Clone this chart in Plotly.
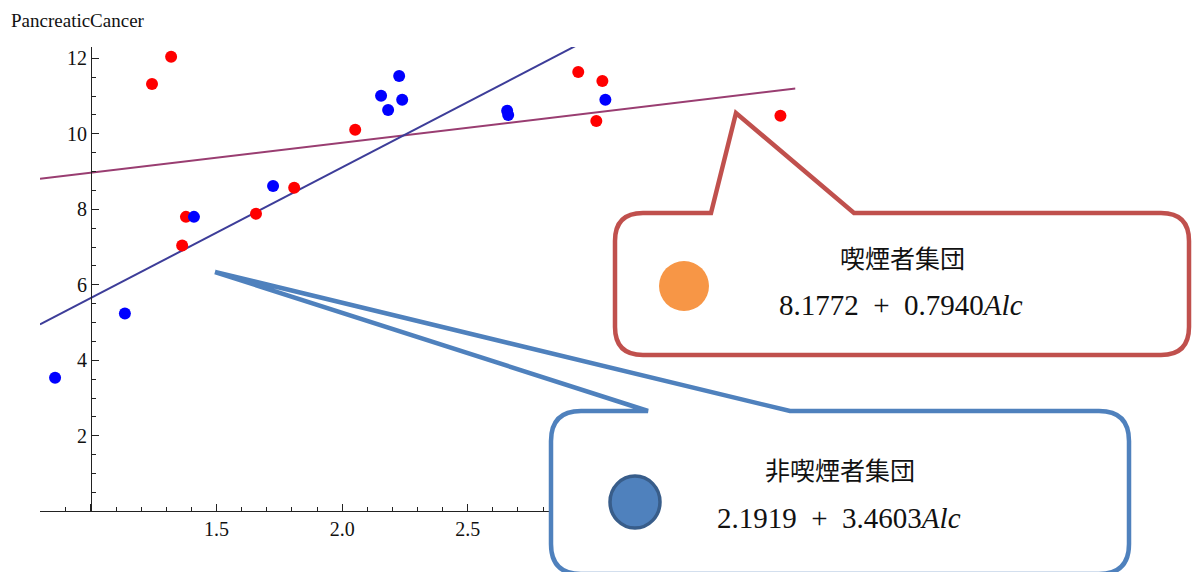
import plotly.graph_objects as go

# ---------------- data ----------------
smoker_x = [1.243, 1.319, 1.378, 1.363, 1.657, 1.809, 2.052, 2.940, 3.036, 3.012, 3.745]
smoker_y = [11.32, 12.04, 7.80, 7.04, 7.88, 8.57, 10.11, 11.64, 11.40, 10.34, 10.48]
nonsmoker_x = [0.857, 1.135, 1.410, 1.725, 2.155, 2.183, 2.227, 2.239, 2.657, 2.661, 3.048]
nonsmoker_y = [3.54, 5.24, 7.80, 8.62, 11.01, 10.63, 11.53, 10.90, 10.61, 10.50, 10.90]

smoker_coef = [8.1772, 0.7940]      # intercept, slope
nonsmoker_coef = [2.1919, 3.4603]

x_tickvals = [1.0, 1.5, 2.0, 2.5, 3.0, 3.5]
x_ticktext = ["", "1.5", "2.0", "2.5", "", ""]   # 3.0 / 3.5 hidden behind the callout in the reference
y_tickvals = [2, 4, 6, 8, 10, 12]
y_ticktext = ["2", "4", "6", "8", "10", "12"]

y_label = "PancreaticCancer"
smoker_title = "喫煙者集団"
smoker_formula = "8.1772\u2002+\u20020.7940<i>Alc</i>"
nonsmoker_title = "非喫煙者集団"
nonsmoker_formula = "2.1919\u2002+\u20023.4603<i>Alc</i>"

# ---------------- layout constants ----------------
W, H = 1199, 572
XMIN, XMAX = 0.797, 3.805
YMIN, YMAX = 0.0, 12.30
dom_x = [40 / W, 795.5 / W]
dom_y = [1 - 511.3 / H, 1 - 47 / H]
yaxis_pos = dom_x[0] + (1.0 - XMIN) / (XMAX - XMIN) * (dom_x[1] - dom_x[0])


def X(px):
    return px / W


def Y(py):
    return 1 - py / H


serif = "Liberation Serif, Times New Roman, serif"
cjk = "Noto Sans CJK JP, Noto Sans CJK SC, sans-serif"

fig = go.Figure()

# regression lines
lx = [XMIN, XMAX]
fig.add_trace(go.Scatter(x=lx, y=[smoker_coef[0] + smoker_coef[1] * v for v in lx],
                         mode="lines", line=dict(color="#993D71", width=2), showlegend=False))
fig.add_trace(go.Scatter(x=lx, y=[nonsmoker_coef[0] + nonsmoker_coef[1] * v for v in lx],
                         mode="lines", line=dict(color="#3D3D99", width=2), showlegend=False))

# points
fig.add_trace(go.Scatter(x=smoker_x, y=smoker_y, mode="markers",
                         marker=dict(color="#FF0000", size=12, line=dict(width=0)),
                         showlegend=False, cliponaxis=False))
fig.add_trace(go.Scatter(x=nonsmoker_x, y=nonsmoker_y, mode="markers",
                         marker=dict(color="#0000FF", size=12, line=dict(width=0)),
                         showlegend=False, cliponaxis=False))


def callout_path(left, top, right, bottom, r, base_l, tip, base_r):
    p = []
    p.append(f"M {X(base_l)} {Y(top)}")
    p.append(f"L {X(tip[0])} {Y(tip[1])}")
    p.append(f"L {X(base_r)} {Y(top)}")
    p.append(f"L {X(right - r)} {Y(top)}")
    p.append(f"Q {X(right)} {Y(top)} {X(right)} {Y(top + r)}")
    p.append(f"L {X(right)} {Y(bottom - r)}")
    p.append(f"Q {X(right)} {Y(bottom)} {X(right - r)} {Y(bottom)}")
    p.append(f"L {X(left + r)} {Y(bottom)}")
    p.append(f"Q {X(left)} {Y(bottom)} {X(left)} {Y(bottom - r)}")
    p.append(f"L {X(left)} {Y(top + r)}")
    p.append(f"Q {X(left)} {Y(top)} {X(left + r)} {Y(top)}")
    p.append("Z")
    return " ".join(p)


shapes = []
# blue (non-smoker) callout
shapes.append(dict(type="path", xref="paper", yref="paper", layer="above",
                   path=callout_path(551, 411, 1129, 574, 30, 648, (215, 272), 790),
                   fillcolor="white", line=dict(color="#4F81BD", width=4.5)))
shapes.append(dict(type="circle", xref="paper", yref="paper", layer="above",
                   x0=X(635 - 25), x1=X(635 + 25), y0=Y(502 + 26), y1=Y(502 - 26),
                   fillcolor="#4F81BD", line=dict(color="#385D8A", width=3.5)))
# red (smoker) callout
shapes.append(dict(type="path", xref="paper", yref="paper", layer="above",
                   path=callout_path(615, 213, 1189, 355, 28, 711, (736, 113), 854),
                   fillcolor="white", line=dict(color="#C0504D", width=4.5)))
shapes.append(dict(type="circle", xref="paper", yref="paper", layer="above",
                   x0=X(684 - 25), x1=X(684 + 25), y0=Y(286 + 25), y1=Y(286 - 25),
                   fillcolor="#F79646", line=dict(color="#F79646", width=0)))

annotations = [
    dict(text=y_label, xref="paper", yref="paper", x=X(9), y=Y(20), xanchor="left",
         yanchor="middle", showarrow=False, font=dict(family=serif, size=19, color="#111")),
    dict(text=smoker_title, xref="paper", yref="paper", x=X(902), y=Y(257), xanchor="center",
         yanchor="middle", showarrow=False, font=dict(family=cjk, size=25, color="#111")),
    dict(text=smoker_formula, xref="paper", yref="paper", x=X(901), y=Y(305), xanchor="center",
         yanchor="middle", showarrow=False, font=dict(family=serif, size=29, color="#111")),
    dict(text=nonsmoker_title, xref="paper", yref="paper", x=X(840), y=Y(469), xanchor="center",
         yanchor="middle", showarrow=False, font=dict(family=cjk, size=25, color="#111")),
    dict(text=nonsmoker_formula, xref="paper", yref="paper", x=X(839), y=Y(518), xanchor="center",
         yanchor="middle", showarrow=False, font=dict(family=serif, size=29, color="#111")),
]

fig.update_layout(
    width=W, height=H, autosize=False,
    margin=dict(l=0, r=0, t=0, b=0),
    paper_bgcolor="white", plot_bgcolor="white",
    showlegend=False,
    shapes=shapes, annotations=annotations,
    xaxis=dict(domain=dom_x, range=[XMIN, XMAX], showgrid=False, zeroline=False,
               showline=True, linecolor="#222", linewidth=1,
               ticks="inside", ticklen=7, tickcolor="#222", tickwidth=1,
               tickvals=x_tickvals, ticktext=x_ticktext,
               tickfont=dict(family=serif, size=20, color="#111"),
               minor=dict(ticks="inside", ticklen=4, tickcolor="#222", dtick=0.1, tick0=0, showgrid=False),
               anchor="y"),
    yaxis=dict(domain=dom_y, range=[YMIN, YMAX], showgrid=False, zeroline=False,
               showline=True, linecolor="#222", linewidth=1,
               ticks="inside", ticklen=7, tickcolor="#222", tickwidth=1,
               tickvals=y_tickvals, ticktext=y_ticktext,
               tickfont=dict(family=serif, size=20, color="#111"),
               minor=dict(ticks="inside", ticklen=4, tickcolor="#222", dtick=0.5, tick0=0, showgrid=False),
               anchor="free", position=yaxis_pos),
)

fig.write_html("out.html")
